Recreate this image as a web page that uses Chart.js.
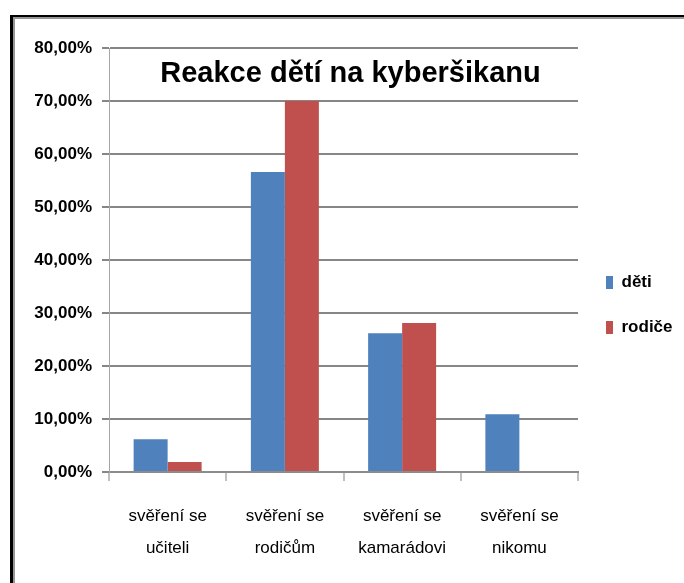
<!DOCTYPE html>
<html><head><meta charset="utf-8">
<script src="https://cdn.jsdelivr.net/npm/chart.js@4.4.1/dist/chart.umd.min.js"></script>
<style>
html,body{margin:0;padding:0;background:#fff;}
#wrap{position:relative;width:684px;height:583px;overflow:hidden;background:#fff;}
#frame{position:absolute;left:10px;top:15px;width:800px;height:800px;border-left:3px solid #000;border-top:2px solid #000;}
#frame2{position:absolute;left:13px;top:17px;width:800px;height:800px;border-left:2px solid #969696;border-top:2px solid #969696;}
canvas{position:absolute;left:0;top:0;}
</style></head><body>
<div id="wrap"><div id="frame"></div><div id="frame2"></div><canvas id="c" width="684" height="583"></canvas></div>
<script>
const chartTitle = 'Reakce dětí na kyberšikanu';
const categories = [['svěření se','učiteli'],['svěření se','rodičům'],['svěření se','kamarádovi'],['svěření se','nikomu']];
const seriesNames = ['děti','rodiče'];
const detiValues = [6.2, 56.6, 26.2, 10.9];
const rodiceValues = [1.9, 70.0, 28.1, 0];
const yTickLabels = ['0,00%','10,00%','20,00%','30,00%','40,00%','50,00%','60,00%','70,00%','80,00%'];

Chart.defaults.font.family = "'Liberation Sans', Arial, sans-serif";
Chart.defaults.color = '#000';

const titlePlugin = {
  id: 'overlayTitle',
  afterDraw(chart) {
    const {ctx, chartArea} = chart;
    ctx.save();
    ctx.font = "bold 29px 'Liberation Sans', Arial, sans-serif";
    ctx.fillStyle = '#000';
    ctx.textAlign = 'center';
    ctx.textBaseline = 'alphabetic';
    ctx.fillText(chartTitle, (chartArea.left + chartArea.right) / 2 + 7, chartArea.top + 34);
    ctx.restore();
  }
};
const legendWidthPlugin = {
  id: 'legendWidth',
  afterInit(chart) {
    const lg = chart.legend;
    if (!lg) return;
    const orig = lg.fit.bind(lg);
    lg.fit = function() { orig(); this.width = 106; };
  }
};

new Chart(document.getElementById('c'), {
  type: 'bar',
  data: {
    labels: categories,
    datasets: [
      {label: seriesNames[0], data: detiValues, backgroundColor: '#4F81BD', borderWidth: 0},
      {label: seriesNames[1], data: rodiceValues, backgroundColor: '#C0504D', borderWidth: 0}
    ]
  },
  options: {
    responsive: false,
    animation: false,
    devicePixelRatio: 1,
    layout: {padding: {top: 48, bottom: 21, left: 0, right: 0}},
    datasets: {bar: {barPercentage: 1, categoryPercentage: 0.58}},
    plugins: {
      legend: {
        position: 'right', align: 'center',
        labels: {boxWidth: 7, boxHeight: 13, padding: 28, font: {size: 17, weight: 'bold'}, color: '#000'}
      },
      title: {display: false},
      tooltip: {enabled: false}
    },
    scales: {
      x: {
        afterFit(scale) { scale.height = 90; },
        grid: {drawOnChartArea: false, drawTicks: true, tickLength: 9, color: '#c0c0c0', lineWidth: 2, offset: true},
        border: {display: true, color: '#8c8c8c', width: 2},
        ticks: {font: {size: 17, lineHeight: 1.85}, padding: 20, color: '#000', maxRotation: 0, autoSkip: false}
      },
      y: {
        min: 0, max: 80,
        afterFit(scale) { scale.width = 109; },
        grid: {color: '#868686', lineWidth: 2, tickLength: 7, drawTicks: true},
        border: {display: true, color: '#a6a6a6', width: 1},
        ticks: {stepSize: 10, padding: 10, font: {size: 17, weight: 'bold'}, color: '#000',
          callback: (v, i) => yTickLabels[i]}
      }
    }
  },
  plugins: [titlePlugin, legendWidthPlugin]
});
</script>
</body></html>
